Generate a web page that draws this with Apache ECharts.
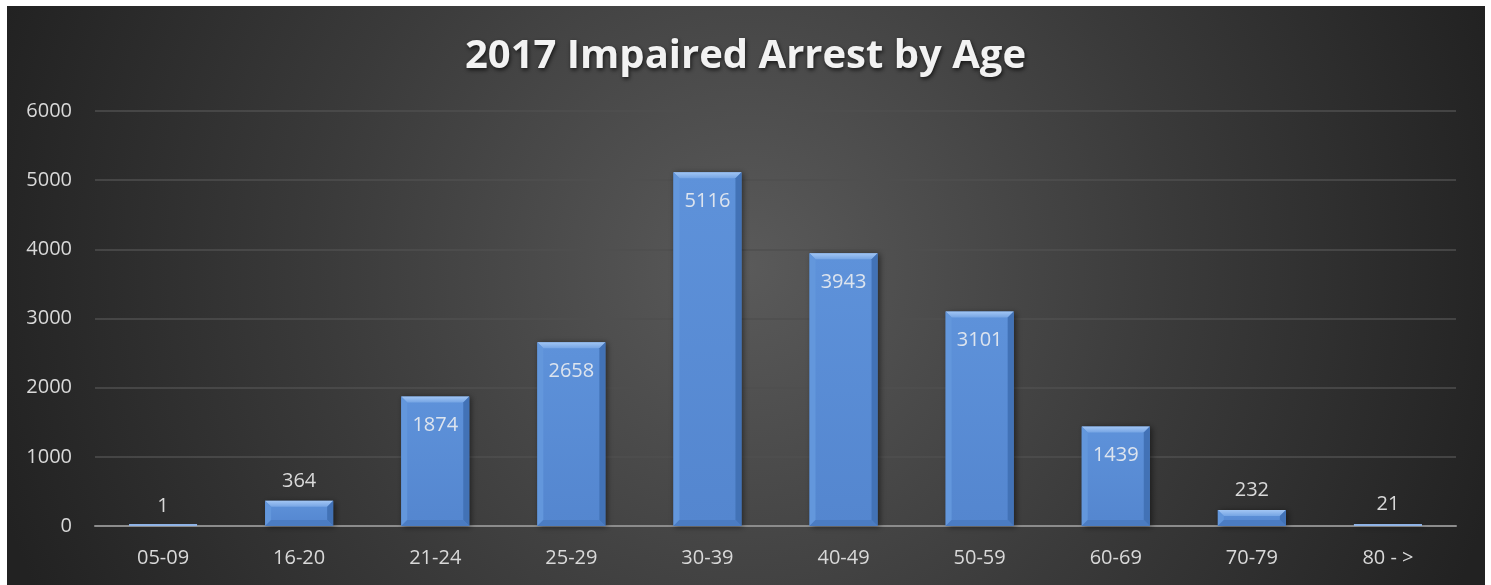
<!DOCTYPE html>
<html><head><meta charset="utf-8">
<style>html,body{margin:0;padding:0;background:#fff;}#c{width:1491px;height:585px;}</style>
<script src="https://cdn.jsdelivr.net/npm/echarts@6/dist/echarts.min.js"></script>
</head><body><div id="c"></div>
<script>
const title = '2017 Impaired Arrest by Age';
const categories = ['05-09','16-20','21-24','25-29','30-39','40-49','50-59','60-69','70-79','80 - >'];
const values = [1,364,1874,2658,5116,3943,3101,1439,232,21];
const yTicks = [0,1000,2000,3000,4000,5000,6000];

const chart = echarts.init(document.getElementById('c'), null, {renderer:'canvas'});
const barFill = new echarts.graphic.LinearGradient(0,0,0,1,[
  {offset:0,color:'#5e92da'},{offset:1,color:'#5486cf'}]);

function bevel(params, api){
  const i = api.value(0), v = api.value(1);
  const top = api.coord([i, v]);
  const base = api.coord([i, 0]);
  const w = api.size([1,0])[0]*0.5;
  const x0 = top[0]-w/2, x1 = top[0]+w/2, y0 = top[1], y1 = base[1];
  const h = y1 - y0;
  const b = Math.min(6, w/2, h/2);
  if (h < 3) {
    return {type:'rect', shape:{x:x0, y:y1-2, width:w, height:2}, style:{fill:'#8fb3e6'}};
  }
  return {type:'group', children:[
    {type:'polygon', shape:{points:[[x0,y0],[x1,y0],[x1-b,y0+b],[x0+b,y0+b]]},
      style:{fill:new echarts.graphic.LinearGradient(0,0,0,1,[{offset:0,color:'#a2c6f4'},{offset:1,color:'#76a5e4'}])}},
    {type:'polygon', shape:{points:[[x0,y0],[x0+b,y0+b],[x0+b,y1-b],[x0,y1]]},
      style:{fill:'#6397dc'}},
    {type:'polygon', shape:{points:[[x1,y0],[x1-b,y0+b],[x1-b,y1-b],[x1,y1]]},
      style:{fill:'#4272b6'}},
    {type:'polygon', shape:{points:[[x0,y1],[x0+b,y1-b],[x1-b,y1-b],[x1,y1]]},
      style:{fill:'#4b7cc2'}}
  ]};
}

chart.setOption({
  animation:false,
  graphic:[{type:'rect',left:7,top:6,z:-10,silent:true,shape:{width:1478,height:579},
    style:{fill:new echarts.graphic.RadialGradient(0.5,0.45,1.35,[
      {offset:0,color:'#5a5a5a'},{offset:0.55,color:'#3a3a3a'},{offset:1,color:'#222222'}])}}],
  title:{text:title,left:'center',top:32,
    textStyle:{color:'#f2f2f2',fontFamily:'Open Sans',fontWeight:'bold',fontSize:40,
      textShadowColor:'rgba(0,0,0,0.7)',textShadowBlur:4,textShadowOffsetX:1,textShadowOffsetY:2}},
  grid:{left:95,right:35,top:111,bottom:59,containLabel:false},
  xAxis:{type:'category',data:categories,
    axisLine:{lineStyle:{color:'#8c8c8c',width:2}},axisTick:{show:false},
    axisLabel:{color:'#d9d9d9',fontFamily:'Open Sans',fontSize:20,margin:22}},
  yAxis:{type:'value',min:yTicks[0],max:yTicks[yTicks.length-1],interval:1000,
    axisLine:{show:false},axisTick:{show:false},
    axisLabel:{color:'#d9d9d9',fontFamily:'Open Sans',fontSize:20,margin:23,formatter:v=>String(v)},
    splitLine:{lineStyle:{color:'#4f4f4f',width:1.5}}},
  series:[{type:'bar',barWidth:'50%',z:2,
    data:values.map(v=>({value:v,label:{position: v<1000?'top':'insideTop',
      color: v<1000?'#d9d9d9':'#dde4ee', distance: v<1000?10:19}})),
    itemStyle:{color:barFill,
      shadowColor:'rgba(0,0,0,0.5)',shadowBlur:6,shadowOffsetX:2,shadowOffsetY:1},
    label:{show:true,fontFamily:'Open Sans',fontSize:20}},
   {type:'custom',z:3,silent:true,renderItem:bevel,
    data:values.map((v,i)=>[i,v])}]
});
</script></body></html>
